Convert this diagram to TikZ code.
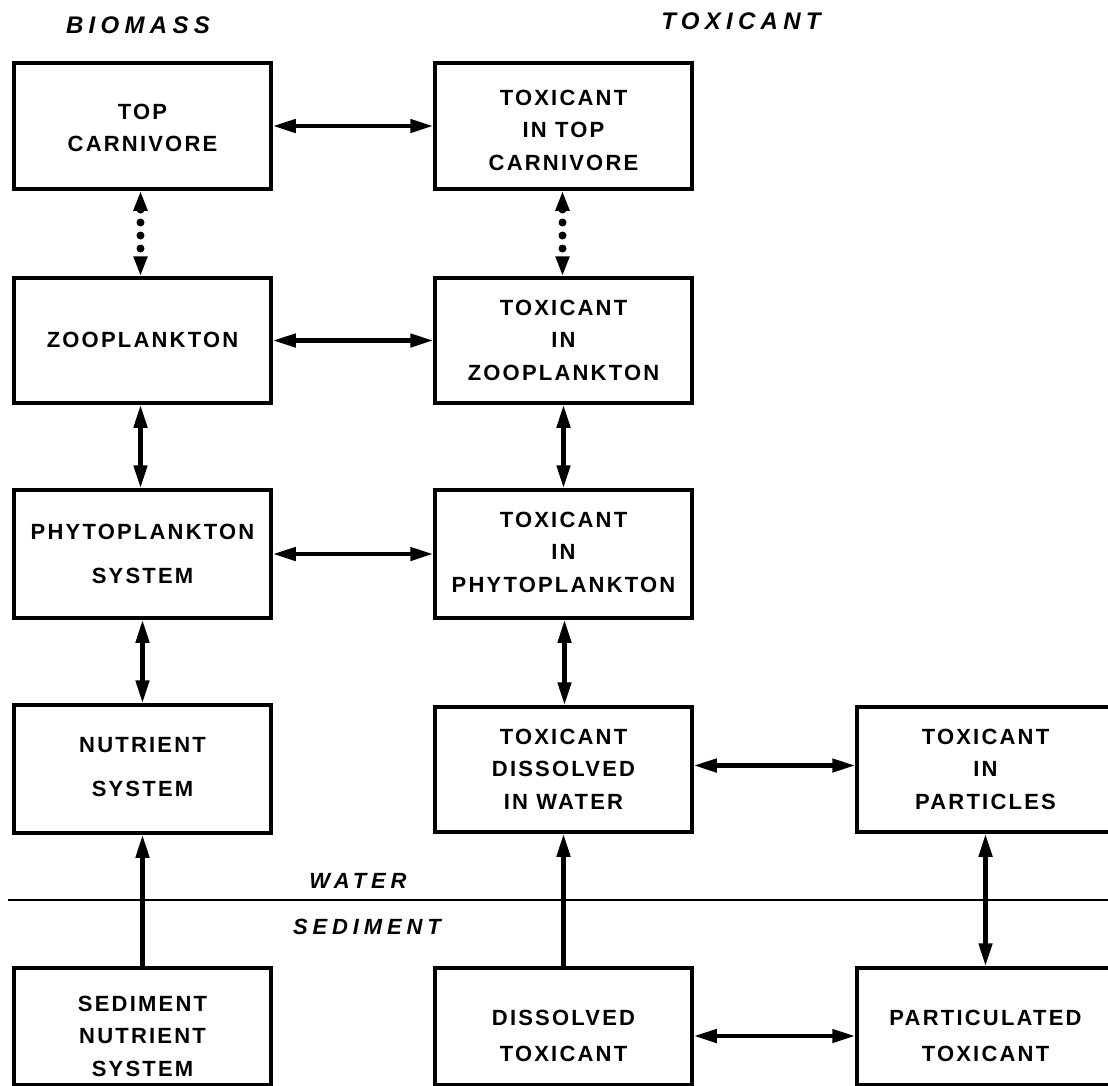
\documentclass[tikz,border=0pt]{standalone}
\usepackage{fontspec}
\newfontfamily\lblfont[LetterSpace=10]{Liberation Sans}
\newfontfamily\hdrfont[LetterSpace=22]{Liberation Sans}
\usetikzlibrary{arrows.meta}
\begin{document}
\begin{tikzpicture}[x=1pt,y=-1pt,
  box/.style={draw, line width=3.5pt, minimum width=257pt, minimum height=#1, inner sep=0pt},
  box/.default=126pt,
  txt/.style={font=\fontsize{22}{32.5}\selectfont\lblfont\bfseries, align=center, inner sep=0pt},
  txtw/.style={font=\fontsize{22}{44}\selectfont\lblfont\bfseries, align=center, inner sep=0pt},
  txtm/.style={font=\fontsize{22}{36}\selectfont\lblfont\bfseries, align=center, inner sep=0pt},
  hdr/.style={font=\fontsize{#1}{28}\selectfont\hdrfont\bfseries\itshape, inner sep=0pt},
  hdr/.default=24,
  dbl/.style={{Triangle[length=23pt,width=13pt]}-{Triangle[length=23pt,width=13pt]}, line width=4.5pt},
  uni/.style={-{Triangle[length=23pt,width=13pt]}, line width=4.5pt},
  dotarr/.style={{Triangle[length=20pt,width=13pt]}-{Triangle[length=20pt,width=13pt]}, line width=8pt, line cap=round, dash pattern=on 0pt off 13pt}
]
\useasboundingbox (0,0) rectangle (1108,1085);
\clip (0,0) rectangle (1108,1085);

% headers
\node[hdr] (hbio) at (138,25) {BIOMASS};
\node[hdr] (htox) at (741,21) {TOXICANT};
\node[hdr=22] (hwat) at (358,881) {WATER};
\node[hdr=22] (hsed) at (367,927) {SEDIMENT};

% water / sediment line
\coordinate (wl) at (8,900);
\coordinate (wr) at (1108,900);
\draw[line width=2.2pt] (wl) -- (wr);

% column 1
\node[box] (topc) at (142.5,126) {};
\node[txt] (topc-t) at (142.5,128) {TOP\\CARNIVORE};
\node[box=125pt] (zoo) at (142.5,340.5) {};
\node[txt] (zoo-t) at (142.5,340) {ZOOPLANKTON};
\node[box=128pt] (phy) at (142.5,554) {};
\node[txtw] (phy-t) at (142.5,554) {PHYTOPLANKTON\\SYSTEM};
\node[box=128pt] (nut) at (142.5,769) {};
\node[txtw] (nut-t) at (142.5,767) {NUTRIENT\\SYSTEM};
\node[box=117pt] (snut) at (142.5,1026.5) {};
\node[txt] (snut-t) at (142.5,1036) {SEDIMENT\\NUTRIENT\\SYSTEM};

% column 2
\node[box] (ttop) at (563.5,126) {};
\node[txt] (ttop-t) at (563.5,130) {TOXICANT\\IN TOP\\CARNIVORE};
\node[box=125pt] (tzoo) at (563.5,340.5) {};
\node[txt] (tzoo-t) at (563.5,340) {TOXICANT\\IN\\ZOOPLANKTON};
\node[box=128pt] (tphy) at (563.5,554) {};
\node[txt] (tphy-t) at (563.5,552) {TOXICANT\\IN\\PHYTOPLANKTON};
\node[box=125pt] (tdis) at (563.5,769.5) {};
\node[txt] (tdis-t) at (563.5,769) {TOXICANT\\DISSOLVED\\IN WATER};
\node[box=117pt] (dtox) at (563.5,1026.5) {};
\node[txtm] (dtox-t) at (563.5,1036) {DISSOLVED\\TOXICANT};

% column 3
\node[box=125pt] (tpar) at (985.5,769.5) {};
\node[txt] (tpar-t) at (985.5,769) {TOXICANT\\IN\\PARTICLES};
\node[box=117pt] (ptox) at (985.5,1026.5) {};
\node[txtm] (ptox-t) at (985.5,1036) {PARTICULATED\\TOXICANT};

% horizontal arrows
\draw[dbl] (topc.east) -- (ttop.west);
\draw[dbl] (zoo.east) -- (tzoo.west);
\draw[dbl] (phy.east) -- (tphy.west);
\draw[dbl] ([yshift=4pt]tdis.east) -- ([yshift=4pt]tpar.west);
\draw[dbl] (dtox-t -| dtox.east) -- (ptox-t -| ptox.west);

% vertical arrows
\draw[dotarr] ([xshift=-2pt]topc.south) -- ([xshift=-2pt]zoo.north);
\draw[dotarr] ([xshift=-1pt]ttop.south) -- ([xshift=-1pt]tzoo.north);
\draw[dbl] ([xshift=-2pt]zoo.south) -- ([xshift=-2pt]phy.north);
\draw[dbl] (tzoo.south) -- (tphy.north);
\draw[dbl] (phy.south) -- (nut.north);
\draw[dbl] ([xshift=1pt]tphy.south) -- ([xshift=1pt]tdis.north);
\draw[uni] (snut.north) -- (nut.south);
\draw[uni] (dtox.north) -- (tdis.south);
\draw[dbl] (tpar.south) -- (ptox.north);
\end{tikzpicture}
\end{document}
